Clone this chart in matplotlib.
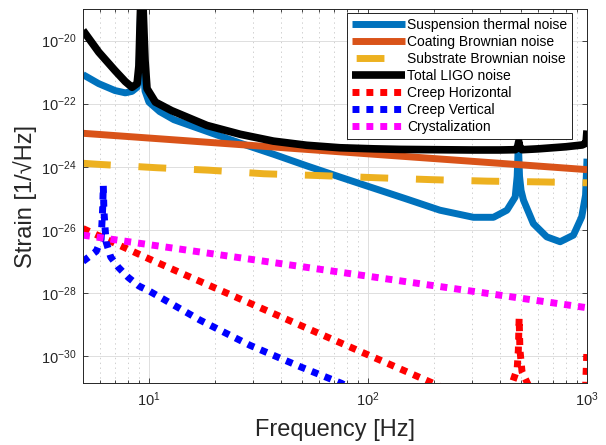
import matplotlib
matplotlib.use('Agg')
from matplotlib import pyplot as plt
from matplotlib.ticker import FixedLocator, LogLocator, NullLocator, NullFormatter, LogFormatterSciNotation

plt.rcParams['font.family'] = ['Liberation Sans', 'DejaVu Sans']
plt.rcParams['mathtext.fontset'] = 'custom'
plt.rcParams['mathtext.rm'] = 'Liberation Sans'
plt.rcParams['axes.unicode_minus'] = False
plt.rcParams['lines.scale_dashes'] = False

# values (frequency in Hz, strain in 1/sqrt(Hz))
f_susp = [5.0, 5.9, 7.0, 7.8, 8.37, 8.83, 9.0, 9.1, 9.2, 9.3, 9.45, 9.6, 10.0, 11.2, 13.0,
          18.4, 26.1, 37, 52.5, 74.6, 100, 150, 213, 303, 374, 431, 470, 480, 486,
          492, 500, 513, 569, 655, 754, 867, 946, 985, 1000]
h_susp = [8.3e-22, 4.3e-22, 2.6e-22, 2.2e-22, 2.45e-22, 3.3e-22, 1e-21, 1e-20, 5e-19,
          3.2e-20, 1e-21, 2.5e-22, 1.12e-22, 5.6e-23, 3.1e-23, 1.32e-23, 5.6e-24, 2.5e-24,
          1.07e-24, 4.7e-25, 2.4e-25, 9.5e-26, 4.2e-26, 2.5e-26, 2.5e-26, 4.2e-26, 1.1e-25,
          5e-25, 5.6e-24, 5e-25, 1.78e-25, 8.7e-26, 1.58e-26, 6.0e-27, 4.2e-27, 6.8e-27,
          2.57e-26, 1.26e-25, 1.8e-24]

f_coat = [5, 20, 100, 500, 1000]
h_coat = [1.15e-23, 5.75e-24, 2.57e-24, 1.15e-24, 8.1e-25]

f_subs = [5, 5.8, 10.9, 18.7, 33.5, 60, 108, 195, 350, 630, 1000]
h_subs = [1.29e-24, 1.2e-24, 9.3e-25, 7.8e-25, 6.0e-25, 5.25e-25, 4.5e-25, 3.9e-25,
          3.5e-25, 3.3e-25, 3.1e-25]

f_total = [5.0, 5.9, 7.0, 7.8, 8.37, 8.83, 9.0, 9.1, 9.2, 9.35, 9.5, 9.6, 9.8, 10.7, 12.7,
           18.4, 26.1, 37, 52.5, 74.6, 106, 140, 205, 300, 400, 470, 483, 488, 493,
           505, 600, 800, 950, 990, 1000]
h_total = [2.1e-20, 4.3e-21, 1.12e-21, 5.0e-22, 3.3e-22, 4.3e-22, 1.58e-21, 2.5e-20, 3.2e-19,
           3.2e-19, 1.58e-20, 2.3e-21, 3.0e-22, 1.12e-22, 6.0e-23, 2.04e-23, 1.07e-23,
           6.5e-24, 4.8e-24, 4.0e-24, 3.7e-24, 3.55e-24, 3.47e-24, 3.4e-24, 3.4e-24, 3.47e-24,
           4.2e-24, 6.3e-24, 4.2e-24, 3.47e-24, 3.7e-24, 4.3e-24, 4.9e-24, 5.6e-24, 1.41e-23]

f_creep_h = [5, 10.1, 15.1, 49, 198, 300, 420, 459, 480, 486, 490, 494, 505, 538, 600, 800,
             960, 985, 1000]
h_creep_h = [1.1e-26, 1.17e-27, 3.4e-28, 9.5e-30, 1.38e-31, 3.5e-32, 2.5e-32, 1.6e-31,
             4.0e-31, 1.6e-30, 1.6e-29, 1.6e-30, 3.2e-31, 1.26e-31, 2.5e-32, 1.26e-32,
             2.5e-32, 1e-31, 1.8e-30]

f_creep_v = [5.0, 5.75, 6.05, 6.15, 6.19, 6.23, 6.37, 6.69, 7.25, 8.05, 9.0, 10.1, 17.1,
             28.9, 49, 75.4, 110]
h_creep_v = [1e-27, 2.1e-27, 5e-27, 5e-26, 2.5e-25, 4e-26, 4.2e-27, 1.38e-27, 6.5e-28,
             3.1e-28, 1.66e-28, 1.12e-28, 1.38e-29, 2.2e-30, 4.6e-31, 1.38e-31, 4e-32]

f_cryst = [5, 10, 100, 1000]
h_cryst = [6.8e-27, 3.4e-27, 3.4e-28, 3.4e-29]

grey = '#262626'

fig = plt.figure(figsize=(6.06, 4.45), dpi=100)
ax = fig.add_axes([83/606, 1 - 383/445, 504/606, 374/445])

ax.plot(f_susp, h_susp, color='#0072BD', lw=5, solid_capstyle='butt', label='Suspension thermal noise')
ax.plot(f_coat, h_coat, color='#D95319', lw=5, solid_capstyle='butt', label='Coating Brownian noise')
ax.plot(f_subs, h_subs, color='#EDB120', lw=5, dashes=(20, 20), label='Substrate Brownian noise')
ax.plot(f_total, h_total, color='k', lw=5.5, solid_capstyle='butt', label='Total LIGO noise')
ax.plot(f_creep_h, h_creep_h, color='#FF0000', lw=5, dashes=(5, 5), label='Creep Horizontal')
ax.plot(f_creep_v, h_creep_v, color='#0000FF', lw=5, dashes=(5, 5), label='Creep Vertical')
ax.plot(f_cryst, h_cryst, color='#FF00FF', lw=5, dashes=(5, 5), label='Crystalization')

ax.set_xscale('log')
ax.set_yscale('log')
ax.set_xlim(5, 1000)
ax.set_ylim(1.4e-31, 1e-19)

ax.xaxis.set_major_locator(FixedLocator([10, 100, 1000]))
ax.xaxis.set_minor_locator(LogLocator(base=10, subs=range(2, 10)))
ax.xaxis.set_major_formatter(LogFormatterSciNotation())
ax.xaxis.set_minor_formatter(NullFormatter())
ax.yaxis.set_major_locator(FixedLocator([1e-30, 1e-28, 1e-26, 1e-24, 1e-22, 1e-20]))
ax.yaxis.set_major_formatter(LogFormatterSciNotation())
ax.yaxis.set_minor_locator(NullLocator())

ax.set_axisbelow(True)
ax.grid(which='major', color='#dedede', lw=0.7, ls='-')
ax.grid(which='minor', axis='x', color='#c8c8c8', lw=0.6, ls=(0, (1, 2.5)))

ax.tick_params(which='both', direction='in', top=True, right=True, colors=grey,
               labelsize=10.5, width=0.6)
ax.tick_params(which='major', length=3.6, pad=5)
ax.tick_params(which='minor', length=2)
for sp in ax.spines.values():
    sp.set_color(grey)
    sp.set_linewidth(0.7)

ax.set_xlabel('Frequency [Hz]', fontsize=17, color=grey)
ax.set_ylabel('Strain [1/\u221aHz]', fontsize=17, color=grey)
ax.xaxis.set_label_coords(0.5, -0.095)
ax.yaxis.set_label_coords(-0.091, 0.5)

leg = ax.legend(loc='upper right', bbox_to_anchor=(572/606, 1 - 13/445),
                bbox_transform=fig.transFigure, borderaxespad=0, fontsize=10,
                handlelength=3.8, handletextpad=0.15, labelspacing=0.22,
                borderpad=0.35, fancybox=False, framealpha=1, edgecolor='k')
leg.get_frame().set_linewidth(0.6)
# put the single dash in the middle of its legend sample
leg.get_lines()[2].set_linestyle((37, (20, 20)))

fig.savefig('out.png', dpi=100)
